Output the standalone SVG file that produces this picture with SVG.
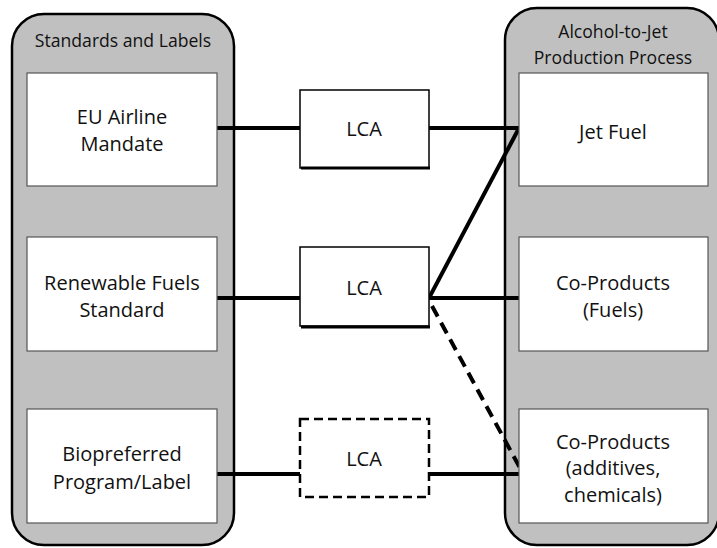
<svg xmlns="http://www.w3.org/2000/svg" width="717" height="548" viewBox="0 0 717 548">
<style>
.cont{fill:#c0c0c0;stroke:#000;stroke-width:2.5}
.box{fill:#fff;stroke:#555;stroke-width:1.2}
.lca{fill:#fff;stroke:#000;stroke-width:1.5}
.t{font-family:"Open Sans","Liberation Sans",sans-serif;font-size:20px;fill:#111;text-anchor:middle}
.h{font-family:"Open Sans","Liberation Sans",sans-serif;font-size:17.6px;fill:#111;text-anchor:middle}
.c{stroke:#000;stroke-width:4;fill:none}
</style>
<rect width="717" height="548" fill="#fff"/>
<g id="standards">
<rect class="cont" x="12" y="14" width="222" height="531" rx="32"/>
<text class="h" x="123" y="47">Standards and Labels</text>
</g>
<g id="process">
<rect class="cont" x="505" y="8" width="214" height="537" rx="32"/>
<text class="h" x="613" y="38">Alcohol-to-Jet</text>
<text class="h" x="613" y="64">Production Process</text>
</g>
<g id="connectors">
<line class="c" x1="217" y1="128" x2="300" y2="128"/>
<line class="c" x1="429" y1="128" x2="519" y2="128"/>
<line class="c" x1="217" y1="298" x2="300" y2="298"/>
<line class="c" x1="429" y1="298" x2="519" y2="298"/>
<line class="c" x1="217" y1="474" x2="300" y2="474"/>
<line class="c" x1="429" y1="474" x2="519" y2="474"/>
<line class="c" x1="429" y1="298" x2="518" y2="130"/>
<line class="c" x1="432" y1="306" x2="520" y2="468" stroke-dasharray="12,7"/>
</g>
<g id="eu">
<rect class="box" x="27" y="73" width="190" height="113"/>
<text class="t" x="122" y="124">EU Airline</text>
<text class="t" x="122" y="151">Mandate</text>
</g>
<g id="rfs">
<rect class="box" x="27" y="237" width="190" height="114"/>
<text class="t" x="122" y="290">Renewable Fuels</text>
<text class="t" x="122" y="317">Standard</text>
</g>
<g id="bio">
<rect class="box" x="27" y="409" width="190" height="114"/>
<text class="t" x="122" y="461">Biopreferred</text>
<text class="t" x="122" y="489">Program/Label</text>
</g>
<g id="lca1">
<rect class="lca" x="300" y="90" width="129" height="78"/>
<line x1="301" y1="168" x2="430" y2="168" stroke="#000" stroke-width="3"/>
<text class="t" x="364" y="136">LCA</text>
</g>
<g id="lca2">
<rect class="lca" x="300" y="247" width="129" height="79"/>
<line x1="301" y1="327" x2="430" y2="327" stroke="#000" stroke-width="3"/>
<text class="t" x="364" y="295">LCA</text>
</g>
<g id="lca3">
<rect x="300" y="419" width="129" height="78" fill="#fff" stroke="#000" stroke-dasharray="9,5" stroke-width="2.5"/>
<text class="t" x="364" y="466">LCA</text>
</g>
<g id="jet">
<rect class="box" x="519" y="73" width="189" height="113"/>
<text class="t" x="613" y="139">Jet Fuel</text>
</g>
<g id="coprod1">
<rect class="box" x="519" y="237" width="189" height="114"/>
<text class="t" x="613" y="290">Co-Products</text>
<text class="t" x="613" y="317">(Fuels)</text>
</g>
<g id="coprod2">
<rect class="box" x="519" y="409" width="189" height="114"/>
<text class="t" x="613" y="449">Co-Products</text>
<text class="t" x="613" y="475">(additives,</text>
<text class="t" x="613" y="502">chemicals)</text>
</g>
</svg>
